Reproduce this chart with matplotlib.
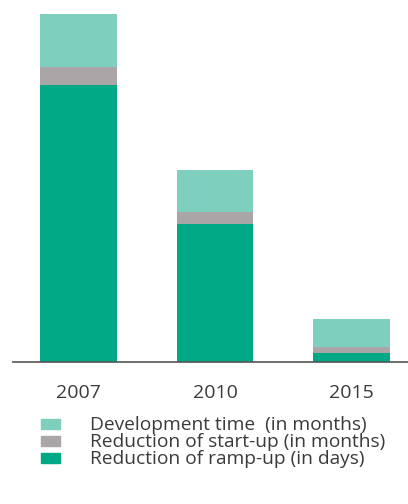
import numpy as np
import matplotlib.pyplot as plt
from matplotlib.patches import Patch

# ----------------------
# Data
# ----------------------
years = ['2007', '2010', '2015']
ramp_up = [277, 138, 9]       # Reduction of ramp-up (in days)
start_up = [18, 12, 6]        # Reduction of start-up (in months)
development = [53, 42, 28]    # Development time (in months)

labels = ['Development time  (in months)',
          'Reduction of start-up (in months)',
          'Reduction of ramp-up (in days)']
c_light = '#7fcfbf'
c_gray = '#aaa6a8'
c_dark = '#00a886'

plt.rcParams['font.family'] = ['Open Sans', 'DejaVu Sans']

fig = plt.figure(figsize=(4.08, 5.04), dpi=100)
ax = fig.add_axes([13 / 408, 142 / 504, 395 / 408, 348 / 504])

x = np.arange(len(years))
w = 0.56
ramp_up = np.array(ramp_up)
start_up = np.array(start_up)
development = np.array(development)

ax.bar(x, ramp_up, w, color=c_dark)
ax.bar(x, start_up, w, bottom=ramp_up, color=c_gray)
ax.bar(x, development, w, bottom=ramp_up + start_up, color=c_light)

ax.set_xlim(-0.48, 2.414)
ax.set_ylim(0, (ramp_up + start_up + development).max())

for s in ['top', 'right', 'left']:
    ax.spines[s].set_visible(False)
ax.spines['bottom'].set_color('#555555')
ax.spines['bottom'].set_linewidth(1.2)
ax.set_yticks([])
ax.set_xticks(x)
ax.set_xticklabels(years, fontsize=14, color='#3a3a3a')
ax.tick_params(axis='x', length=0, pad=16)

handles = [Patch(color=c_light), Patch(color=c_gray), Patch(color=c_dark)]
fig.legend(handles, labels, loc='upper left', bbox_to_anchor=(28 / 408, 1 - 403 / 504),
           frameon=False, fontsize=13.8, handlelength=0.95, handleheight=0.42,
           handletextpad=1.6, labelspacing=-0.05, labelcolor='#3a3a3a',
           borderpad=0.2)

plt.savefig('out.png', dpi=100)
